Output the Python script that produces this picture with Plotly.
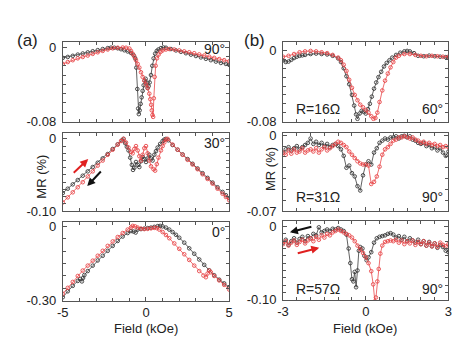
import plotly.graph_objects as go

# ---------------- data (field in kOe, MR in %) ----------------
# (a) 90 deg
A1_BX = [-5.0,-4.7,-4.4,-4.1,-3.8,-3.5,-3.2,-2.9,-2.6,-2.3,-2.1,-1.9,-1.7,-1.5,-1.3,-1.1,-0.9,-0.75,-0.65,-0.58,
         -0.52,-0.47,-0.43,-0.38,-0.32,-0.26,-0.2,-0.14,-0.08,-0.02,0.04,0.1,0.16,0.22,0.3,0.38,0.46,0.55,0.65,0.75,
         0.9,1.05,1.2,1.5,1.8,2.1,2.4,2.7,3.0,3.3,3.6,3.9,4.2,4.5,4.8,5.0]
A1_BY = [-0.0115,-0.0105,-0.0093,-0.008,-0.0068,-0.0056,-0.0044,-0.0032,-0.002,-0.001,-0.0005,-0.0006,-0.0012,-0.0022,-0.0033,-0.0046,-0.0062,-0.0085,-0.012,-0.022,
         -0.045,-0.066,-0.072,-0.068,-0.061,-0.054,-0.047,-0.041,-0.036,-0.034,-0.038,-0.044,-0.042,-0.038,-0.03,-0.02,-0.012,-0.007,-0.004,-0.0025,
         -0.001,-0.0003,-0.0006,-0.002,-0.0035,-0.005,-0.0065,-0.008,-0.0095,-0.011,-0.0125,-0.014,-0.0155,-0.017,-0.018,-0.019]
A1_RX = [-5.0,-4.7,-4.4,-4.1,-3.8,-3.5,-3.2,-2.9,-2.6,-2.3,-2.0,-1.7,-1.4,-1.2,-1.0,
         -0.9,-0.8,-0.7,-0.6,-0.5,-0.4,-0.3,-0.2,-0.1,0.0,0.1,0.2,
         0.26,0.31,0.35,0.39,0.43,0.47,0.52,0.58,0.66,0.76,0.88,1.0,1.2,1.4,
         1.7,2.0,2.3,2.6,2.9,3.2,3.5,3.8,4.1,4.4,4.7,5.0]
A1_RY = [-0.018,-0.016,-0.014,-0.012,-0.0105,-0.009,-0.0072,-0.0055,-0.004,-0.0025,-0.0012,-0.0006,-0.0004,-0.0006,-0.0015,
         -0.004,-0.007,-0.010,-0.014,-0.018,-0.022,-0.027,-0.032,-0.036,-0.040,-0.044,-0.050,
         -0.056,-0.062,-0.068,-0.073,-0.075,-0.055,-0.032,-0.02,-0.012,-0.008,-0.005,-0.0035,-0.0025,-0.002,
         -0.0025,-0.0035,-0.0045,-0.0055,-0.0065,-0.0078,-0.009,-0.0102,-0.0115,-0.0128,-0.014,-0.0152]

# (a) 30 deg
A2_BX = [-5.0,-4.7,-4.4,-4.1,-3.8,-3.5,-3.2,-2.9,-2.6,-2.3,-2.0,-1.7,
         -1.45,-1.35,-1.25,-1.15,-1.05,-0.95,-0.85,-0.78,
         -0.7,-0.6,-0.5,-0.4,-0.3,-0.2,-0.1,0.0,0.1,0.2,0.3,0.4,0.5,0.6,0.7,
         0.85,1.0,1.1,1.2,1.35,
         1.6,1.9,2.2,2.5,2.8,3.1,3.4,3.7,4.0,4.3,4.6,4.8,5.0]
A2_BY = [-0.075,-0.069,-0.063,-0.057,-0.051,-0.045,-0.039,-0.033,-0.027,-0.021,-0.014,-0.0075,
         -0.002,0.0,-0.006,-0.011,-0.016,-0.026,-0.036,-0.043,
         -0.040,-0.032,-0.036,-0.039,-0.031,-0.025,-0.028,-0.032,-0.027,-0.022,-0.027,-0.030,-0.022,-0.017,-0.012,
         -0.007,-0.003,-0.001,0.0,-0.002,
         -0.0085,-0.015,-0.0215,-0.028,-0.0345,-0.041,-0.0475,-0.054,-0.0605,-0.067,-0.0735,-0.078,-0.082]
A2_RX = [-5.0,-4.7,-4.4,-4.1,-3.8,-3.5,-3.2,-2.9,-2.6,-2.3,-2.0,-1.7,
         -1.5,-1.35,-1.2,-1.05,-0.9,
         -0.8,-0.7,-0.6,-0.5,-0.4,-0.3,-0.2,-0.1,0.0,0.1,0.2,0.3,
         0.45,0.55,0.65,0.75,0.9,1.0,1.1,1.2,1.3,
         1.6,1.9,2.2,2.5,2.8,3.1,3.4,3.7,4.0,4.3,4.6,4.8,5.0]
A2_RY = [-0.088,-0.081,-0.074,-0.067,-0.060,-0.052,-0.045,-0.037,-0.030,-0.022,-0.015,-0.008,
         -0.003,0.0,-0.005,-0.012,-0.018,
         -0.020,-0.014,-0.010,-0.016,-0.024,-0.030,-0.022,-0.013,-0.010,-0.020,-0.030,-0.038,
         -0.042,-0.044,-0.035,-0.026,-0.016,-0.010,-0.005,-0.001,0.0,
         -0.008,-0.015,-0.022,-0.029,-0.0355,-0.042,-0.049,-0.0555,-0.062,-0.069,-0.076,-0.0805,-0.085]

# (a) 0 deg
A3_BX = [-5.0,-4.7,-4.4,-4.1,-3.95,-3.85,-3.78,-3.7,
         -3.5,-3.2,-2.9,-2.6,-2.3,-2.0,-1.7,-1.4,-1.1,
         -0.9,-0.75,-0.62,-0.5,-0.3,-0.1,
         0.1,0.3,0.5,0.7,0.85,1.0,1.2,1.4,1.6,1.8,2.0,
         2.3,2.6,2.9,3.2,3.5,3.8,4.1,4.4,4.7,5.0]
A3_BY = [-0.286,-0.262,-0.24,-0.22,-0.212,-0.222,-0.208,-0.196,
         -0.18,-0.158,-0.137,-0.118,-0.098,-0.078,-0.058,-0.04,-0.026,
         -0.018,-0.02,-0.024,-0.012,-0.01,-0.008,
         -0.006,-0.004,-0.001,0.002,0.003,0.001,-0.004,-0.012,-0.022,-0.033,-0.045,
         -0.065,-0.088,-0.11,-0.133,-0.155,-0.177,-0.197,-0.215,-0.23,-0.245]
A3_RX = [-5.0,-4.7,-4.4,-4.1,-3.8,-3.5,-3.2,-2.9,-2.6,-2.3,-2.0,-1.7,-1.4,-1.1,
         -0.9,-0.8,-0.65,-0.5,-0.3,-0.1,
         0.1,0.3,0.5,0.65,0.8,1.0,1.2,1.4,
         1.7,2.0,2.3,2.6,2.9,3.2,
         3.45,3.6,3.7,3.8,3.9,
         4.1,4.4,4.7,5.0]
A3_RY = [-0.272,-0.248,-0.224,-0.2,-0.178,-0.158,-0.138,-0.118,-0.098,-0.078,-0.06,-0.042,-0.026,-0.012,
         -0.003,0.003,0.001,-0.004,-0.008,-0.01,
         -0.009,-0.007,-0.005,-0.006,-0.012,-0.022,-0.034,-0.047,
         -0.068,-0.09,-0.112,-0.135,-0.158,-0.18,
         -0.198,-0.205,-0.19,-0.178,-0.185,
         -0.2,-0.218,-0.236,-0.255]

# (b) R=16 ohm, 60 deg
B1_BX = [-3.0,-2.9,-2.8,-2.7,-2.6,-2.5,-2.4,-2.3,-2.2,-2.0,-1.8,-1.6,-1.4,-1.2,-1.0,
         -0.9,-0.8,-0.7,-0.6,-0.5,-0.42,-0.35,-0.3,-0.22,-0.15,-0.08,
         0.0,0.08,0.15,0.22,0.3,0.38,0.46,0.56,0.66,0.76,0.86,0.96,
         1.1,1.25,1.4,1.5,1.6,1.75,1.9,2.1,2.3,2.5,2.7,2.9,3.0]
B1_BY = [-0.011,-0.013,-0.0125,-0.0105,-0.0085,-0.007,-0.006,-0.0055,-0.005,-0.004,-0.0035,-0.004,-0.0045,-0.006,-0.009,
         -0.013,-0.02,-0.029,-0.038,-0.05,-0.062,-0.072,-0.077,-0.071,-0.068,-0.069,
         -0.071,-0.066,-0.06,-0.052,-0.043,-0.036,-0.03,-0.024,-0.018,-0.014,-0.011,-0.008,
         -0.005,-0.0025,-0.001,-0.0005,-0.001,-0.003,-0.006,-0.0065,-0.0058,-0.0065,-0.007,-0.0075,-0.008]
B1_RX = [-3.0,-2.8,-2.6,-2.4,-2.2,-2.0,-1.8,-1.6,-1.4,-1.2,-1.0,
         -0.9,-0.8,-0.7,-0.6,-0.5,-0.4,-0.3,-0.2,-0.1,0.0,0.1,0.2,
         0.28,0.35,0.42,0.5,
         0.6,0.7,0.8,0.9,1.0,1.1,1.2,
         1.4,1.6,1.8,2.0,2.2,2.4,2.6,2.8,3.0]
B1_RY = [-0.007,-0.006,-0.004,-0.002,-0.001,-0.0005,-0.001,-0.002,-0.003,-0.005,-0.008,
         -0.011,-0.016,-0.023,-0.033,-0.042,-0.05,-0.056,-0.061,-0.064,-0.067,-0.07,-0.074,
         -0.077,-0.076,-0.07,-0.058,
         -0.045,-0.034,-0.026,-0.019,-0.013,-0.008,-0.006,
         -0.004,-0.004,-0.005,-0.006,-0.0065,-0.006,-0.0065,-0.007,-0.007]

# (b) R=31 ohm, 90 deg
B2_X = [-3.0,-2.9,-2.8,-2.7,-2.6,-2.5,-2.4,-2.3,-2.2,-2.1,
        -2.0,-1.9,-1.8,-1.7,-1.6,-1.5,-1.4,-1.3,-1.2,-1.1,
        -1.0,-0.9,-0.8,-0.7,-0.6,-0.5,-0.4,-0.3,-0.2,-0.1,
        0.0,0.1,0.2,0.3,0.4,0.5,0.6,0.7,0.8,0.9,
        1.0,1.1,1.2,1.3,1.4,1.5,1.6,1.7,1.8,1.9,
        2.0,2.1,2.2,2.3,2.4,2.5,2.6,2.7,2.8,2.9,3.0]
B2_BY = [-0.016,-0.013,-0.011,-0.014,-0.012,-0.010,-0.013,-0.011,-0.009,-0.007,
         -0.003,-0.008,-0.006,-0.009,-0.007,-0.010,-0.008,-0.011,-0.009,-0.008,
         -0.010,-0.013,-0.019,-0.030,-0.028,-0.035,-0.038,-0.047,-0.051,-0.037,
         -0.027,-0.024,-0.027,-0.016,-0.012,-0.007,-0.005,-0.003,-0.004,-0.002,
         -0.002,-0.001,-0.003,-0.001,-0.0005,-0.002,-0.001,-0.004,-0.005,-0.007,
         -0.008,-0.007,-0.010,-0.009,-0.012,-0.011,-0.014,-0.012,-0.016,-0.019,-0.015]
B2_RY = [-0.016,-0.018,-0.014,-0.017,-0.013,-0.016,-0.015,-0.012,-0.016,-0.014,
         -0.013,-0.015,-0.012,-0.016,-0.013,-0.011,-0.014,-0.012,-0.010,-0.008,
         -0.006,-0.007,-0.009,-0.011,-0.015,-0.018,-0.021,-0.024,-0.026,-0.027,
         -0.027,-0.028,-0.045,-0.043,-0.038,-0.029,-0.018,-0.013,-0.011,-0.008,
         -0.005,-0.004,-0.002,-0.002,-0.001,-0.0015,-0.003,-0.002,-0.004,-0.005,
         -0.007,-0.006,-0.008,-0.007,-0.009,-0.008,-0.010,-0.009,-0.011,-0.010,-0.011]

# (b) R=57 ohm, 90 deg
B3_BX = [-3.0,-2.9,-2.8,-2.7,-2.6,-2.5,-2.4,-2.3,-2.2,-2.1,
         -2.0,-1.9,-1.8,-1.7,-1.6,-1.5,-1.4,-1.3,-1.2,-1.1,
         -1.0,-0.9,-0.8,-0.7,
         -0.62,-0.56,-0.5,-0.45,-0.4,-0.35,-0.3,-0.25,-0.2,-0.12,-0.05,0.03,
         0.1,0.2,0.3,0.4,0.5,0.6,0.7,0.8,0.9,
         1.0,1.1,1.2,1.3,1.4,1.5,1.6,1.7,1.8,1.9,
         2.0,2.1,2.2,2.3,2.4,2.5,2.6,2.7,2.8,2.9,3.0]
B3_BY = [-0.022,-0.018,-0.025,-0.020,-0.016,-0.022,-0.017,-0.014,-0.020,-0.013,
         -0.016,-0.010,-0.012,-0.001,-0.008,-0.006,-0.004,-0.006,-0.003,-0.004,
         -0.002,-0.004,-0.006,-0.011,
         -0.030,-0.050,-0.072,-0.075,-0.062,-0.083,-0.060,-0.033,-0.028,-0.030,-0.040,-0.046,
         -0.042,-0.035,-0.022,-0.016,-0.014,-0.013,-0.012,-0.010,-0.009,
         -0.011,-0.015,-0.013,-0.018,-0.014,-0.020,-0.016,-0.019,-0.022,-0.018,
         -0.024,-0.020,-0.026,-0.021,-0.027,-0.023,-0.029,-0.025,-0.028,-0.033,-0.035]
B3_RX = [-3.0,-2.9,-2.8,-2.7,-2.6,-2.5,-2.4,-2.3,-2.2,-2.1,
         -2.0,-1.9,-1.8,-1.7,-1.6,-1.5,-1.4,-1.3,-1.2,-1.1,
         -1.0,-0.9,-0.8,-0.7,-0.6,-0.5,-0.4,-0.3,-0.2,-0.1,
         0.0,0.1,0.2,
         0.27,0.33,0.37,0.42,0.47,0.53,
         0.6,0.7,0.8,0.9,1.0,
         1.1,1.2,1.3,1.4,1.5,1.6,1.7,1.8,1.9,2.0,
         2.1,2.2,2.3,2.4,2.5,2.6,2.7,2.8,2.9,3.0]
B3_RY = [-0.024,-0.020,-0.026,-0.022,-0.019,-0.025,-0.021,-0.018,-0.023,-0.019,
         -0.016,-0.020,-0.014,-0.018,-0.012,-0.015,-0.010,-0.012,-0.008,-0.006,
         -0.004,-0.006,-0.008,-0.010,-0.012,-0.015,-0.020,-0.026,-0.031,-0.036,
         -0.042,-0.050,-0.061,
         -0.079,-0.102,-0.097,-0.075,-0.058,-0.037,
         -0.026,-0.021,-0.020,-0.019,-0.020,
         -0.018,-0.022,-0.019,-0.024,-0.020,-0.023,-0.019,-0.025,-0.021,-0.024,
         -0.020,-0.026,-0.022,-0.027,-0.023,-0.028,-0.022,-0.025,-0.027,-0.024]

# axis ranges / labels
Y_RANGES = [[-0.08, 0.006], [-0.10, 0.008], [-0.30, 0.02], [-0.08, 0.01], [-0.07, 0.002], [-0.10, 0.008]]
Y_LABELS = [["-0.08", "0"], ["-0.10", "0"], ["-0.30", "0"], ["-0.08", "0"], ["-0.07", "0"], ["-0.10", "0"]]
Y_MINOR = [0.01, 0.01, 0.05, 0.01, 0.01, 0.01]
ANGLES = ["90°", "30°", "0°", "60°", "90°", "90°"]
R_LABELS = ["R=16Ω", "R=31Ω", "R=57Ω"]

W, H = 474, 352
BLACK = "#3a3a3a"
RED = "#e8474a"
AXC = "#555555"
FONT = "Liberation Sans, Arial, sans-serif"

def px(x):
    return x / W

def py(y):
    return 1 - y / H

# panel pixel boxes (left, right, top, bottom)
BOXES = [(58, 228, 38, 121), (58, 228, 133, 214), (58, 228, 225, 307),
         (283, 452, 38, 121), (283, 452, 133, 214), (283, 452, 224, 306)]

series = [(A1_BX, A1_BY, A1_RX, A1_RY), (A2_BX, A2_BY, A2_RX, A2_RY), (A3_BX, A3_BY, A3_RX, A3_RY),
          (B1_BX, B1_BY, B1_RX, B1_RY), (B2_X, B2_BY, B2_X, B2_RY), (B3_BX, B3_BY, B3_RX, B3_RY)]

fig = go.Figure()
layout = dict(width=W, height=H, margin=dict(l=0, r=0, t=0, b=0),
              paper_bgcolor="white", plot_bgcolor="white", showlegend=False,
              font=dict(family=FONT, size=12, color="#222"))

for i, (bx, by, rx, ry) in enumerate(series):
    n = i + 1
    xa = "x" if n == 1 else f"x{n}"
    ya = "y" if n == 1 else f"y{n}"
    for xs, ys, col in ((bx, by, BLACK), (rx, ry, RED)):
        fig.add_trace(go.Scatter(x=xs, y=ys, xaxis=xa, yaxis=ya, mode="lines+markers",
                                 line=dict(color=col, width=0.8),
                                 marker=dict(symbol="circle-open", size=3.6, color=col, line=dict(width=0.9, color=col))))
    l, r, t, b = BOXES[i]
    left_col = i < 3
    xr = [-5, 5] if left_col else [-3, 3]
    xt = [-5, 0, 5] if left_col else [-3, 0, 3]
    bottom = i in (2, 5)
    layout["xaxis" if n == 1 else f"xaxis{n}"] = dict(
        domain=[px(l), px(r)], anchor=ya, range=xr, showline=True, linecolor=AXC, linewidth=1,
        mirror="allticks", ticks="inside", ticklen=4, tickcolor=AXC, tickwidth=1,
        tickmode="array", tickvals=xt, ticktext=[str(v) for v in xt], showticklabels=bottom,
        tickfont=dict(family=FONT, size=13, color="#222"), showgrid=False, zeroline=False,
        minor=dict(ticks="inside", ticklen=3, tickcolor=AXC, tickmode="linear", tick0=0,
                   dtick=1 if left_col else 0.5, showgrid=False))
    yr = Y_RANGES[i]
    layout["yaxis" if n == 1 else f"yaxis{n}"] = dict(
        domain=[py(b), py(t)], anchor=xa, range=yr, showline=True, linecolor=AXC, linewidth=1,
        mirror="allticks", ticks="inside", ticklen=4, tickcolor=AXC, tickwidth=1,
        tickmode="array", tickvals=[yr[0], 0], ticktext=Y_LABELS[i], ticklabelstandoff=3,
        tickfont=dict(family=FONT, size=13, color="#222"), showgrid=False, zeroline=False,
        minor=dict(ticks="inside", ticklen=3, tickcolor=AXC, tickmode="linear", tick0=0,
                   dtick=Y_MINOR[i], showgrid=False))

ann = []
def text(x, y, s, size, xanchor="center", yanchor="middle", angle=0):
    ann.append(dict(x=px(x), y=py(y), xref="paper", yref="paper", text=s, showarrow=False,
                    xanchor=xanchor, yanchor=yanchor, textangle=angle,
                    font=dict(family=FONT, size=size, color="#222")))

text(22, 37, "(a)", 17)
text(254, 37, "(b)", 17)
for i in range(6):
    l, r, t, b = BOXES[i]
    if i < 3:
        yy = [46, 143, 236][i]
        text(r - 2, yy, ANGLES[i], 14, xanchor="right")
    else:
        yy = [108, 199, 295][i - 3]
        text(r - 4, yy, ANGLES[i], 14, xanchor="right")
        text(294, yy, R_LABELS[i - 3], 14, xanchor="left")
text(36, 178, "MR (%)", 13, angle=-90)
text(270, 170, "MR (%)", 13, angle=-90)
text(143, 336, "Field (kOe)", 13)
text(367, 336, "Field (kOe)", 13)

def arrow(tail, head, col):
    ann.append(dict(x=px(head[0]), y=py(head[1]), xref="paper", yref="paper", text="",
                    showarrow=True, ax=tail[0] - head[0], ay=tail[1] - head[1],
                    arrowhead=2, arrowsize=0.8, arrowwidth=2, arrowcolor=col))

arrow((68, 175), (84, 160), "#e02020")
arrow((98, 172), (83, 188), "#111111")
arrow((313, 230), (290, 236), "#111111")
arrow((297, 258), (320, 252), "#e02020")

layout["annotations"] = ann
fig.update_layout(**layout)
fig.write_html("out.html")
